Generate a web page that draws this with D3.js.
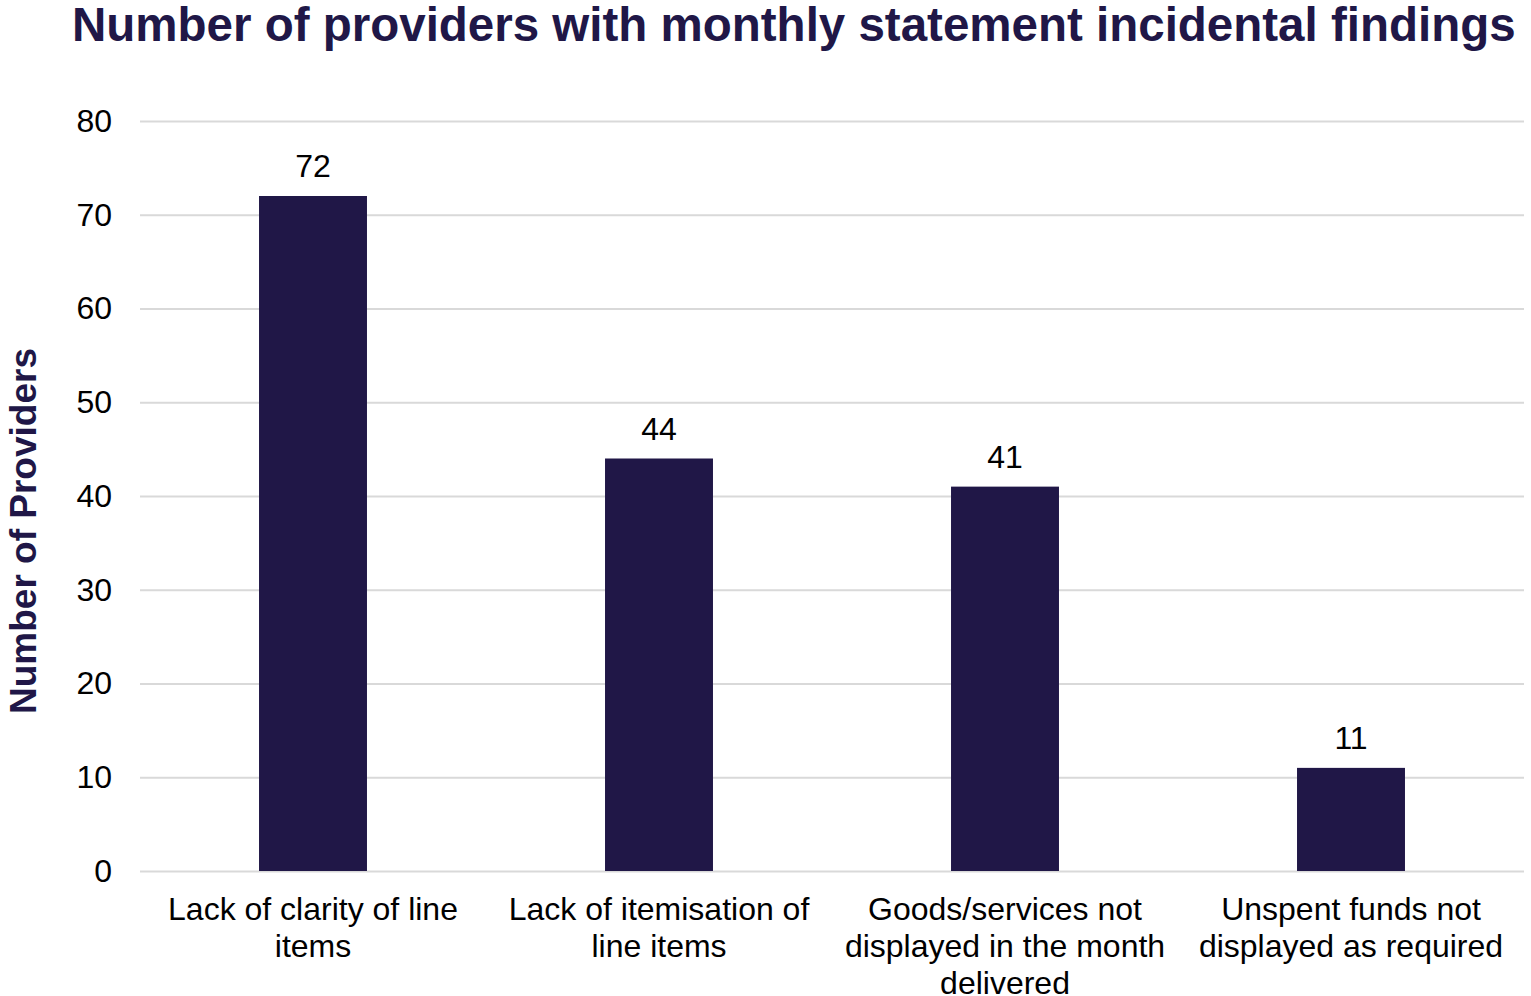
<!DOCTYPE html>
<html>
<head>
<meta charset="utf-8">
<script src="https://cdn.jsdelivr.net/npm/d3@7"></script>
<style>
  body { margin: 0; background: #fff; }
  text { font-family: "Liberation Sans", Arial, sans-serif; }
</style>
</head>
<body>
<div id="chart"></div>
<script>
var svgWidth = 1531;
var svgHeight = 996;

var margin = { top: 121, right: 7, bottom: 125, left: 140 };
var width = svgWidth - margin.left - margin.right;
var height = svgHeight - margin.top - margin.bottom;

// Chart data
var categories = [
  "Lack of clarity of line items",
  "Lack of itemisation of line items",
  "Goods/services not displayed in the month delivered",
  "Unspent funds not displayed as required"
];
var providerCounts = [72, 44, 41, 11];
var yTicks = [0, 10, 20, 30, 40, 50, 60, 70, 80];

var barColor = "#201747";

var svg = d3.select("#chart")
  .append("svg")
  .attr("width", svgWidth)
  .attr("height", svgHeight);

// Title
svg.append("text")
  .attr("x", 72)
  .attr("y", 41)
  .attr("fill", barColor)
  .attr("font-size", "47.5px")
  .attr("font-weight", "bold")
  .text("Number of providers with monthly statement incidental findings");

// Y axis title
svg.append("text")
  .attr("transform", `translate(36, 531) rotate(-90)`)
  .attr("text-anchor", "middle")
  .attr("fill", barColor)
  .attr("font-size", "37px")
  .attr("font-weight", "bold")
  .text("Number of Providers");

var chartGroup = svg.append("g")
  .attr("transform", `translate(${margin.left}, ${margin.top})`);

var xScale = d3.scaleBand()
  .domain(categories)
  .range([0, width])
  .paddingInner(0.688)
  .paddingOuter(0.344);

var yScale = d3.scaleLinear()
  .domain([0, 80])
  .range([height, 0]);

// Gridlines
chartGroup.append("g")
  .call(d3.axisLeft(yScale).tickValues(yTicks).tickSize(-width).tickFormat(""))
  .call(g => g.select(".domain").remove())
  .call(g => g.selectAll("line").attr("stroke", "#d9d9d9").attr("stroke-width", 2));

// Y tick labels
var leftAxis = chartGroup.append("g")
  .call(d3.axisLeft(yScale).tickValues(yTicks).tickSize(0).tickPadding(28));
leftAxis.select(".domain").remove();
leftAxis.selectAll("text")
  .attr("font-size", "32px")
  .attr("fill", "#000")
  .attr("font-family", "'Liberation Sans', Arial, sans-serif");

// Bars
var data = categories.map((c, i) => ({ cat: c, value: providerCounts[i] }));

chartGroup.selectAll("rect.bar")
  .data(data)
  .enter()
  .append("rect")
  .attr("class", "bar")
  .attr("x", d => xScale(d.cat))
  .attr("y", d => yScale(d.value))
  .attr("width", xScale.bandwidth())
  .attr("height", d => height - yScale(d.value))
  .attr("fill", barColor);

// Value labels
chartGroup.selectAll("text.val")
  .data(data)
  .enter()
  .append("text")
  .attr("class", "val")
  .attr("x", d => xScale(d.cat) + xScale.bandwidth() / 2)
  .attr("y", d => yScale(d.value) - 19)
  .attr("text-anchor", "middle")
  .attr("font-size", "32px")
  .attr("fill", "#000")
  .text(d => d.value);

// X category labels
var bottomAxis = chartGroup.append("g")
  .attr("transform", `translate(0, ${height})`)
  .call(d3.axisBottom(xScale).tickSize(0).tickPadding(0));
bottomAxis.select(".domain").remove();
bottomAxis.selectAll("text")
  .attr("font-size", "32px")
  .attr("fill", "#000")
  .attr("font-family", "'Liberation Sans', Arial, sans-serif")
  .call(wrap, 335);

// Wrap category text into lines
function wrap(texts, maxWidth) {
  texts.each(function() {
    var text = d3.select(this);
    var words = text.text().split(/\s+/);
    text.text(null).attr("y", null).attr("dy", null);
    var lines = [];
    var line = [];
    var tspan = text.append("tspan");
    words.forEach(function(w) {
      line.push(w);
      tspan.text(line.join(" "));
      if (tspan.node().getComputedTextLength() > maxWidth && line.length > 1) {
        line.pop();
        lines.push(line.join(" "));
        line = [w];
      }
    });
    lines.push(line.join(" "));
    text.text(null);
    lines.forEach(function(l, i) {
      text.append("tspan")
        .attr("x", 0)
        .attr("y", 49 + i * 37)
        .text(l);
    });
  });
}
</script>
</body>
</html>
